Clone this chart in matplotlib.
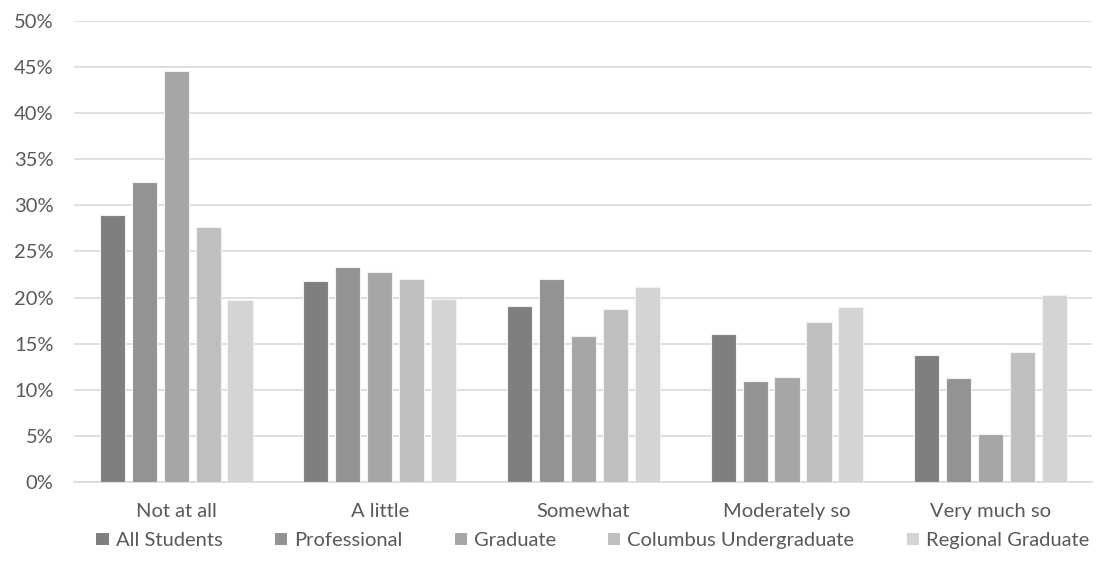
import matplotlib.pyplot as plt
import numpy as np
from matplotlib.patches import Patch
from matplotlib.ticker import PercentFormatter

plt.rcParams["font.family"] = ["Lato", "DejaVu Sans"]

categories = ["Not at all", "A little", "Somewhat", "Moderately so", "Very much so"]
series_names = [
    "All Students",
    "Professional",
    "Graduate",
    "Columbus Undergraduate",
    "Regional Graduate",
]
all_students = [29.0, 21.8, 19.1, 16.1, 13.8]
professional = [32.5, 23.3, 22.0, 11.0, 11.3]
graduate = [44.6, 22.8, 15.8, 11.4, 5.2]
columbus_undergrad = [27.6, 22.0, 18.8, 17.3, 14.1]
regional_graduate = [19.7, 19.8, 21.1, 19.0, 20.3]
series_values = [all_students, professional, graduate, columbus_undergrad, regional_graduate]
y_ticks = np.arange(0, 51, 5)

colors = ["#7f7f7f", "#939393", "#a6a6a6", "#bfbfbf", "#d4d4d4"]
text_color = "#595959"

fig = plt.figure(figsize=(11.08, 5.8), dpi=100)
ax = fig.add_axes((0.067, 0.169, 0.919, 0.795))

x = np.arange(len(categories))
bar_w = 0.123
step = 0.157
offsets = (np.arange(len(series_names)) - 2) * step

for vals, off, col in zip(series_values, offsets, colors):
    ax.bar(x + off, vals, width=bar_w, color=col, edgecolor="#f2f2f2",
           linewidth=0.8, zorder=3)

ax.set_xlim(-0.5, len(categories) - 0.5)
ax.set_ylim(0, 50)
ax.set_yticks(y_ticks)
ax.yaxis.set_major_formatter(PercentFormatter(decimals=0))
ax.set_xticks(x)
ax.set_xticklabels(categories)

ax.grid(axis="y", color="#d9d9d9", linewidth=1.2, zorder=0)
ax.set_axisbelow(True)
for side in ["top", "right", "left"]:
    ax.spines[side].set_visible(False)
ax.spines["bottom"].set_color("#d9d9d9")
ax.spines["bottom"].set_linewidth(1.2)
ax.tick_params(axis="both", length=0, labelsize=14.5, colors=text_color)
ax.tick_params(axis="x", pad=15)
ax.tick_params(axis="y", pad=15)

handles = [Patch(facecolor=c, edgecolor="none") for c in colors]
fig.legend(
    handles,
    series_names,
    loc="center",
    bbox_to_anchor=(0.535, 0.068),
    ncol=5,
    frameon=False,
    fontsize=14.5,
    labelcolor=text_color,
    handlelength=0.6,
    handleheight=0.6,
    handletextpad=0.35,
    columnspacing=2.6,
)

fig.savefig("out.png", dpi=100, facecolor="white")
plt.close(fig)
